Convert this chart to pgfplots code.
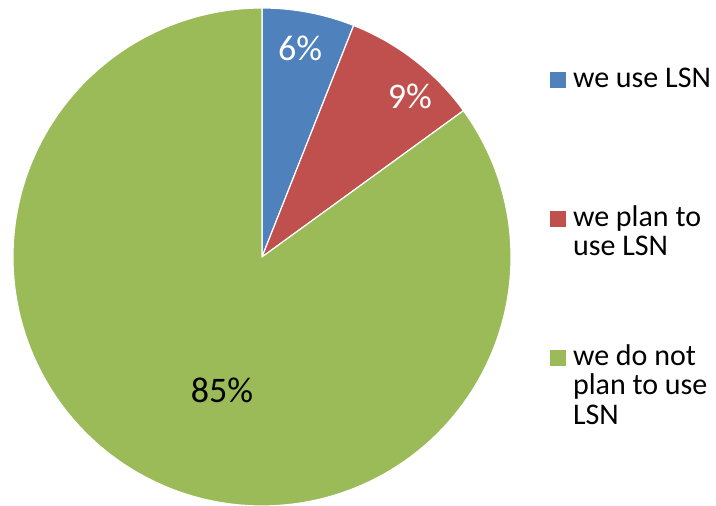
\documentclass[border=0pt]{standalone}
\usepackage{pgfplots}
\pgfplotsset{compat=1.18}
\usepackage{fontspec}
\setmainfont{Carlito}
\definecolor{pieblue}{HTML}{4F81BD}
\definecolor{piered}{HTML}{C0504D}
\definecolor{piegreen}{HTML}{9BBB59}
\newcommand{\legtext}[1]{\smash{\parbox[t]{145pt}{#1}}}
\begin{document}
\begin{tikzpicture}
\useasboundingbox (0,0) rectangle (716pt,506pt);
% shares in percent
\def\vA{6}\def\vB{9}\def\vC{85}
\pgfmathsetmacro\aA{90}
\pgfmathsetmacro\aB{90-3.6*\vA}
\pgfmathsetmacro\aC{\aB-3.6*\vB}
\pgfmathsetmacro\aD{\aC-3.6*\vC}
\begin{axis}[
  at={(0,0)}, anchor=south west,
  scale only axis, width=716pt, height=506pt,
  xmin=-1.052, xmax=1.823, ymin=-1, ymax=1.032,
  hide axis, clip=false,
  legend style={draw=none, fill=none, inner sep=0pt, row sep=17pt, column sep=7pt,
     at={(rel axis cs:0.768,0.8715)}, anchor=north west,
     font=\fontsize{30}{29.5}\selectfont,
     nodes={inner sep=0pt}, cells={anchor=base west}},
  legend image code/.code={\path[fill=none, draw=none] (0pt,-100pt) rectangle (16pt,22pt);
     \fill[#1, draw=none] (0pt,-0.5pt) rectangle (16pt,15.5pt);},
]
\addplot[fill=pieblue, draw=white, line width=1.2pt, line join=round, domain=\aB:\aA, samples=40] ({cos(x)},{sin(x)}) -- (axis cs:0,0) -- cycle;
\addlegendentry{\legtext{we use LSN}}
\addplot[fill=piered, draw=white, line width=1.2pt, line join=round, domain=\aC:\aB, samples=40] ({cos(x)},{sin(x)}) -- (axis cs:0,0) -- cycle;
\addlegendentry{\legtext{we plan to\\use LSN}}
\addplot[fill=piegreen, draw=white, line width=1.2pt, line join=round, domain=\aD:\aC, samples=240] ({cos(x)},{sin(x)}) -- (axis cs:0,0) -- cycle;
\addlegendentry{\legtext{we do not\\plan to use\\LSN}}
\node[text=white, font=\fontsize{36}{42}\selectfont] at (axis cs:0.153,0.839) {\vA\%};
\node[text=white, font=\fontsize{36}{42}\selectfont] at (axis cs:0.594,0.643) {\vB\%};
\node[text=black, font=\fontsize{36}{42}\selectfont] at (axis cs:-0.161,-0.534) {\vC\%};
\end{axis}
\end{tikzpicture}
\end{document}
